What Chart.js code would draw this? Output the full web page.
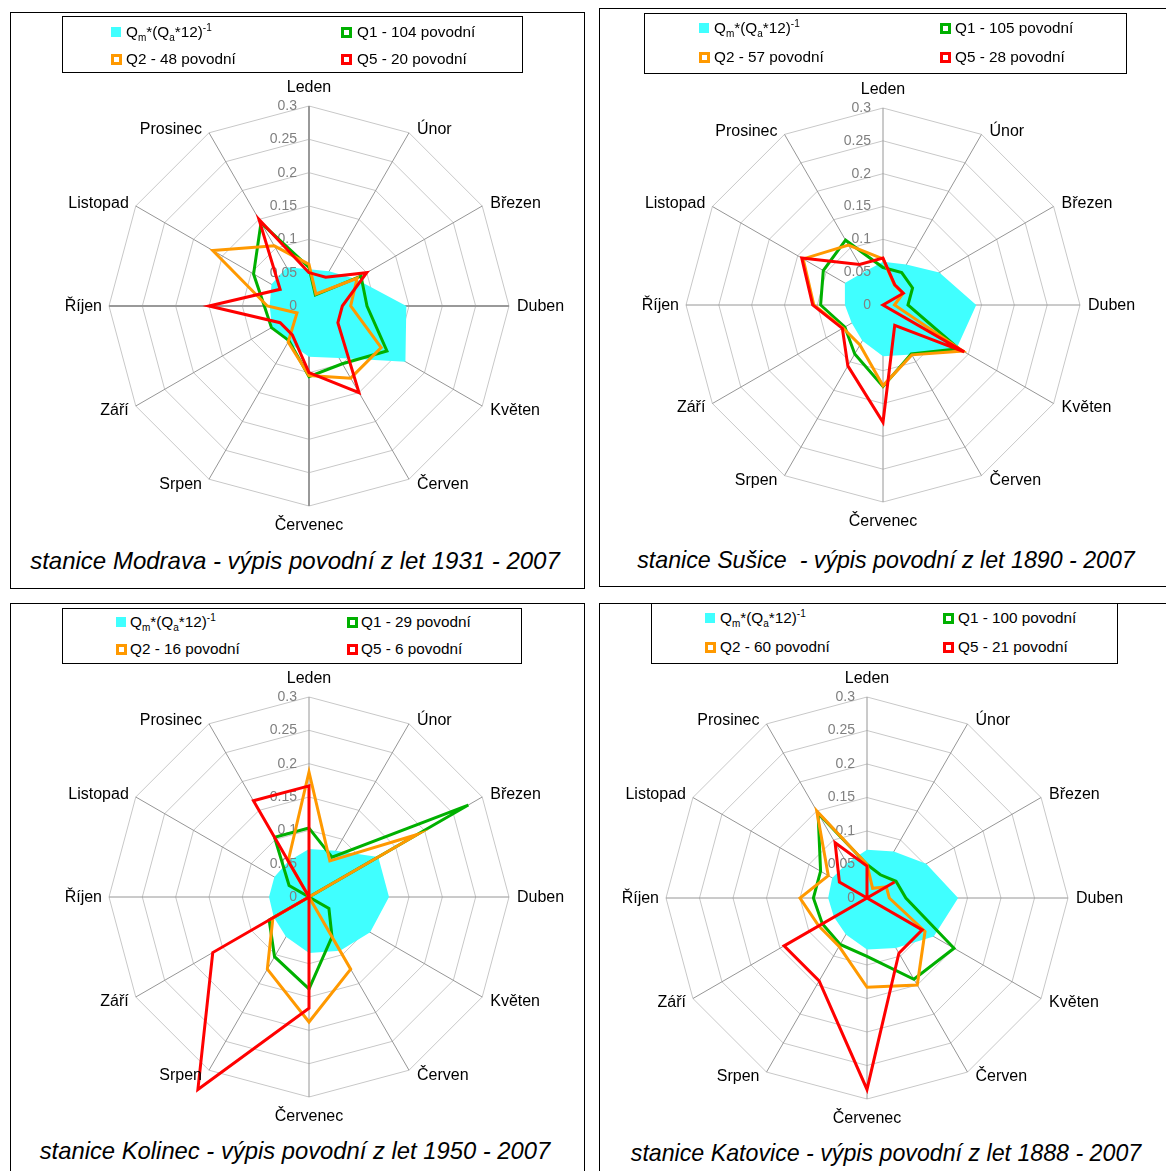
<!DOCTYPE html>
<html lang="cs">
<head>
<meta charset="utf-8">
<title>Rozložení povodní během roku</title>
<script src="https://cdn.jsdelivr.net/npm/chart.js@4/dist/chart.umd.min.js"></script>
<style>
  html, body { margin: 0; padding: 0; background: #fff; }
  body { width: 1166px; height: 1171px; position: relative; overflow: hidden;
         font-family: "Liberation Sans", Arial, sans-serif; }
  .panel { position: absolute; box-sizing: border-box; border: 1px solid #000; }
  .legend { position: absolute; box-sizing: border-box; border: 1px solid #000; background: #fff; z-index: 2; }
  .item { position: absolute; font-size: 15.3px; line-height: 18px; white-space: nowrap; color: #000; z-index: 3; }
  .item sub, .item sup { font-size: 10px; line-height: 0; }
  .mark { position: absolute; box-sizing: border-box; z-index: 3; }
  .title { position: absolute; font-style: italic; line-height: 28px;
           white-space: pre; text-align: center; width: 600px; color: #000; z-index: 3; }
  canvas { position: absolute; z-index: 1; }
</style>
</head>
<body>
<script>
// Month names around the radar (clockwise from the top)
const months = ['Leden', 'Únor', 'Březen', 'Duben', 'Květen', 'Červen',
                'Červenec', 'Srpen', 'Září', 'Říjen', 'Listopad', 'Prosinec'];

// Radial axis ticks
const tickValues = [0, 0.05, 0.1, 0.15, 0.2, 0.25, 0.3];
const tickLabels = ['0', '0.05', '0.1', '0.15', '0.2', '0.25', '0.3'];

// Legend label of the mean-flow series
const qmLabel = 'Q<sub>m</sub>*(Q<sub>a</sub>*12)<sup>-1</sup>';

// Modrava
const modravaQm = [0.055, 0.060, 0.081, 0.146, 0.167, 0.090, 0.076, 0.063, 0.064, 0.059, 0.065, 0.067];
const modravaQ1 = [0.058, 0.019, 0.090, 0.087, 0.135, 0.100, 0.106, 0.060, 0.065, 0.067, 0.096, 0.144];
const modravaQ2 = [0.0625, 0.0208, 0.0833, 0.0625, 0.125, 0.125, 0.1042, 0.0625, 0.0208, 0.0625, 0.1667, 0.1042];
const modravaQ5 = [0.05, 0.05, 0.10, 0.05, 0.05, 0.15, 0.10, 0.05, 0.05, 0.15, 0.05, 0.15];
const modravaNames = ['Q1 - 104 povodní', 'Q2 - 48 povodní', 'Q5 - 20 povodní'];
const modravaTitle = 'stanice Modrava - výpis povodní z let 1931 - 2007';

// Sušice
const susiceQm = [0.066, 0.071, 0.099, 0.142, 0.130, 0.087, 0.078, 0.063, 0.055, 0.058, 0.067, 0.058];
const susiceQ1 = [0.057, 0.057, 0.052, 0.038, 0.133, 0.086, 0.124, 0.086, 0.067, 0.095, 0.105, 0.114];
const susiceQ2 = [0.0702, 0.0351, 0.0351, 0.0175, 0.1404, 0.0877, 0.1228, 0.0702, 0.0702, 0.1053, 0.1404, 0.1053];
const susiceQ5 = [0.0714, 0.0357, 0.0357, 0, 0.1429, 0.0357, 0.1786, 0.1071, 0.0714, 0.1071, 0.1429, 0.0714];
const susiceNames = ['Q1 - 105 povodní', 'Q2 - 57 povodní', 'Q5 - 28 povodní'];
const susiceTitle = 'stanice Sušice  - výpis povodní z let 1890 - 2007';

// Kolinec
const kolinecQm = [0.072, 0.080, 0.120, 0.120, 0.106, 0.093, 0.084, 0.069, 0.061, 0.060, 0.060, 0.062];
const kolinecQ1 = [0.1034, 0.069, 0.2759, 0, 0.0345, 0.069, 0.1379, 0.1034, 0.069, 0, 0.0345, 0.1034];
const kolinecQ2 = [0.1875, 0.0625, 0.1875, 0, 0, 0.125, 0.1875, 0.125, 0.0625, 0, 0, 0.0625];
const kolinecQ5 = [0.1667, 0, 0, 0, 0, 0, 0.1667, 0.3333, 0.1667, 0, 0, 0.1667];
const kolinecNames = ['Q1 - 29 povodní', 'Q2 - 16 povodní', 'Q5 - 6 povodní'];
const kolinecTitle = 'stanice Kolinec - výpis povodní z let 1950 - 2007';

// Katovice
const katoviceQm = [0.072, 0.080, 0.102, 0.136, 0.115, 0.086, 0.077, 0.063, 0.057, 0.058, 0.060, 0.060];
const katoviceQ1 = [0.050, 0.040, 0.050, 0.058, 0.150, 0.140, 0.087, 0.080, 0.077, 0.080, 0.080, 0.146];
const katoviceQ2 = [0.05, 0.0167, 0.0333, 0.0333, 0.10, 0.15, 0.1333, 0.0833, 0.0833, 0.10, 0.0667, 0.15];
const katoviceQ5 = [0.0476, 0, 0.0476, 0, 0.0952, 0.0952, 0.2857, 0.1429, 0.1429, 0, 0.0476, 0.0952];
const katoviceNames = ['Q1 - 100 povodní', 'Q2 - 60 povodní', 'Q5 - 21 povodní'];
const katoviceTitle = 'stanice Katovice - výpis povodní z let 1888 - 2007';

// ---- styling ----
const fillCyan = 'rgb(64,255,255)';
const lineColors = ['#00b000', '#ff9900', '#ff0000'];   // Q1, Q2, Q5
const FONT = '"Liberation Sans", Arial, sans-serif';
Chart.defaults.font.family = FONT;

// Page geometry of the four panels
const panels = [
  { data: [modravaQm, modravaQ1, modravaQ2, modravaQ5], names: modravaNames, title: modravaTitle,
    cx: 309, cy: 306, r: 200, box: [10, 12, 575, 577], legend: [62, 16, 461, 57],
    rows: [32, 59], mx: [111, 341], tx: [126, 357], tpos: [295, 561], tsize: 24, bold: true },
  { data: [susiceQm, susiceQ1, susiceQ2, susiceQ5], names: susiceNames, title: susiceTitle,
    cx: 883, cy: 305, r: 197, box: [599, 8, 570, 579], legend: [644, 13, 483, 61],
    rows: [28, 57], mx: [699, 940], tx: [714, 955], tpos: [886, 560], tsize: 23.2, bold: false },
  { data: [kolinecQm, kolinecQ1, kolinecQ2, kolinecQ5], names: kolinecNames, title: kolinecTitle,
    cx: 309, cy: 897, r: 200, box: [10, 603, 575, 620], legend: [62, 608, 460, 56],
    rows: [622, 649], mx: [116, 347], tx: [130, 361], tpos: [295, 1151], tsize: 23.8, bold: false },
  { data: [katoviceQm, katoviceQ1, katoviceQ2, katoviceQ5], names: katoviceNames, title: katoviceTitle,
    cx: 867, cy: 898, r: 201, box: [599, 603, 570, 620], legend: [651, 603, 467, 61],
    rows: [618, 647], mx: [705, 943], tx: [720, 958], tpos: [886, 1153], tsize: 23.2, bold: false }
];

// vertical nudges of the month names relative to the outer vertex
const labelDy = [-18.5, -3, -2.5, 1, 4.5, 5, 19.5, 5, 4.5, 1, -2.5, -3];

const radarText = {
  id: 'radarText',
  // axis values sit above the filled area but under the flood lines
  afterDatasetDraw(chart, args) {
    if (args.index !== 0) return;
    const s = chart.scales.r, ctx = chart.ctx;
    ctx.save();
    ctx.font = '14px ' + FONT;
    ctx.fillStyle = '#808080';
    ctx.textAlign = 'right';
    ctx.textBaseline = 'middle';
    tickValues.forEach((v, k) => {
      ctx.fillText(tickLabels[k], s.xCenter - 12, s.yCenter - s.getDistanceFromCenterForValue(v));
    });
    ctx.restore();
  },
  afterDraw(chart) {
    const s = chart.scales.r, ctx = chart.ctx;
    ctx.save();
    ctx.font = '16px ' + FONT;
    ctx.fillStyle = '#000';
    ctx.textBaseline = 'middle';
    chart.data.labels.forEach((lab, i) => {
      const p = s.getPointPosition(i, s.drawingArea);
      const y = p.y + labelDy[i];
      if (i === 0 || i === 6) { ctx.textAlign = 'center'; ctx.fillText(lab, p.x, y); }
      else if (i < 6) { ctx.textAlign = 'left'; ctx.fillText(lab, p.x + 8, y); }
      else { ctx.textAlign = 'right'; ctx.fillText(lab, p.x - 7, y); }
    });
    ctx.restore();
  }
};

function el(tag, cls, style) {
  const e = document.createElement(tag);
  if (cls) e.className = cls;
  Object.assign(e.style, style || {});
  document.body.appendChild(e);
  return e;
}

panels.forEach(P => {
  el('div', 'panel', { left: P.box[0] + 'px', top: P.box[1] + 'px', width: P.box[2] + 'px', height: P.box[3] + 'px' });
  el('div', 'legend', { left: P.legend[0] + 'px', top: P.legend[1] + 'px', width: P.legend[2] + 'px', height: P.legend[3] + 'px' });

  // legend: [Qm, Q1] on the first row, [Q2, Q5] on the second
  const entries = [
    { html: qmLabel, row: 0, col: 0, kind: 'fill', color: fillCyan },
    { html: P.names[0], row: 0, col: 1, kind: 'line', color: lineColors[0] },
    { html: P.names[1], row: 1, col: 0, kind: 'line', color: lineColors[1] },
    { html: P.names[2], row: 1, col: 1, kind: 'line', color: lineColors[2] }
  ];
  entries.forEach(en => {
    const y = P.rows[en.row];
    if (en.kind === 'fill') {
      el('div', 'mark', { left: P.mx[en.col] + 'px', top: (y - 5) + 'px', width: '10px', height: '10px', background: en.color });
    } else {
      el('div', 'mark', { left: P.mx[en.col] + 'px', top: (y - 5.5) + 'px', width: '11px', height: '11px',
                          border: '3px solid ' + en.color, background: '#fff' });
    }
    const t = el('div', 'item', { left: P.tx[en.col] + 'px', top: (y - 9) + 'px' });
    t.innerHTML = en.html;
  });

  const ti = el('div', 'title', { left: (P.tpos[0] - 300) + 'px', top: (P.tpos[1] - 14) + 'px', fontSize: P.tsize + 'px' });
  ti.textContent = P.title;

  // radar canvas: chart area is the square holding the 0.3 ring
  const W = 520, H = 480;
  const cv = el('canvas', null, { left: (P.cx - W / 2) + 'px', top: (P.cy - H / 2) + 'px' });
  cv.width = W; cv.height = H;
  const padX = W / 2 - P.r, padY = H / 2 - P.r;

  const [qm, q1, q2, q5] = P.data;
  new Chart(cv, {
    type: 'radar',
    data: {
      labels: months,
      datasets: [
        { data: qm, backgroundColor: fillCyan, borderColor: 'rgba(0,0,0,0)', borderWidth: 0, fill: 'origin', order: 4, clip: false },
        { data: q1, borderColor: lineColors[0], borderWidth: 3, fill: false, order: 3, clip: false },
        { data: q2, borderColor: lineColors[1], borderWidth: 3, fill: false, order: 2, clip: false },
        { data: q5, borderColor: lineColors[2], borderWidth: 3, fill: false, order: 1, clip: false }
      ]
    },
    options: {
      responsive: false,
      animation: false,
      events: [],
      layout: { padding: { left: padX, right: padX, top: padY, bottom: padY } },
      elements: {
        line: { tension: 0, borderJoinStyle: 'miter' },
        point: { radius: 0, hoverRadius: 0 }
      },
      plugins: { legend: { display: false }, tooltip: { enabled: false } },
      scales: {
        r: {
          min: 0, max: 0.3,
          ticks: { display: false, stepSize: 0.05 },
          pointLabels: { display: false },
          grid: { color: '#c8c8c8', lineWidth: 1 },
          angleLines: {
            color: c => (P.bold && c.index % 3 === 0) ? '#999999' : '#969696',
            lineWidth: c => (P.bold && c.index % 3 === 0) ? 2 : 1
          }
        }
      }
    },
    plugins: [radarText]
  });
});
</script>
</body>
</html>
